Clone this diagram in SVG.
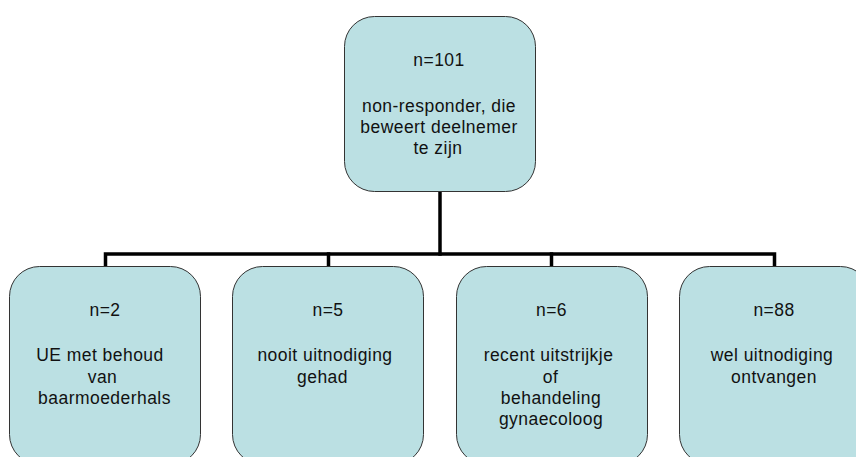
<svg xmlns="http://www.w3.org/2000/svg" width="856" height="457" viewBox="0 0 856 457">
  <style>
    .box { fill: #BBE0E3; stroke: #333333; stroke-width: 1; }
    .lbl { font-family: "Liberation Sans", Arial, sans-serif; font-size: 17.5px; letter-spacing: 0.45px; fill: #111; text-anchor: middle; }
    .wire { fill: none; stroke: #000; stroke-width: 3.5; stroke-linecap: square; }
  </style>
  <rect x="0" y="0" width="856" height="457" fill="#ffffff"/>

  <!-- tree connectors -->
  <g id="connectors">
    <path class="wire" d="M440 192 V254"/>
    <path class="wire" d="M105.5 266 V254 H774.5 V266"/>
    <path class="wire" d="M328.5 254 V266"/>
    <path class="wire" d="M551.5 254 V266"/>
  </g>

  <g id="root">
    <rect class="box" x="344.5" y="16.5" width="191" height="175" rx="30" ry="30"/>
    <text class="lbl" x="439" y="66">n=101</text>
    <text class="lbl" x="439" y="112">non-responder, die</text>
    <text class="lbl" x="439" y="133">beweert deelnemer</text>
    <text class="lbl" x="438" y="154">te zijn</text>
  </g>

  <g id="uterus">
    <rect class="box" x="9.5" y="266.5" width="191" height="198" rx="30" ry="30"/>
    <text class="lbl" x="105" y="316">n=2</text>
    <text class="lbl" x="100" y="361">UE met behoud</text>
    <text class="lbl" x="102.5" y="383">van</text>
    <text class="lbl" x="104.5" y="404">baarmoederhals</text>
  </g>

  <g id="never-invited">
    <rect class="box" x="232.5" y="266.5" width="191" height="198" rx="30" ry="30"/>
    <text class="lbl" x="328" y="316">n=5</text>
    <text class="lbl" x="325" y="361">nooit uitnodiging</text>
    <text class="lbl" x="322.5" y="383">gehad</text>
  </g>

  <g id="recent-smear">
    <rect class="box" x="456.5" y="266.5" width="191" height="198" rx="30" ry="30"/>
    <text class="lbl" x="551.5" y="316">n=6</text>
    <text class="lbl" x="548.5" y="361">recent uitstrijkje</text>
    <text class="lbl" x="550.5" y="383">of</text>
    <text class="lbl" x="551" y="404">behandeling</text>
    <text class="lbl" x="551" y="425">gynaecoloog</text>
  </g>

  <g id="invited">
    <rect class="box" x="679.5" y="266.5" width="191" height="198" rx="30" ry="30"/>
    <text class="lbl" x="774" y="316">n=88</text>
    <text class="lbl" x="772" y="361">wel uitnodiging</text>
    <text class="lbl" x="774" y="383">ontvangen</text>
  </g>
</svg>
